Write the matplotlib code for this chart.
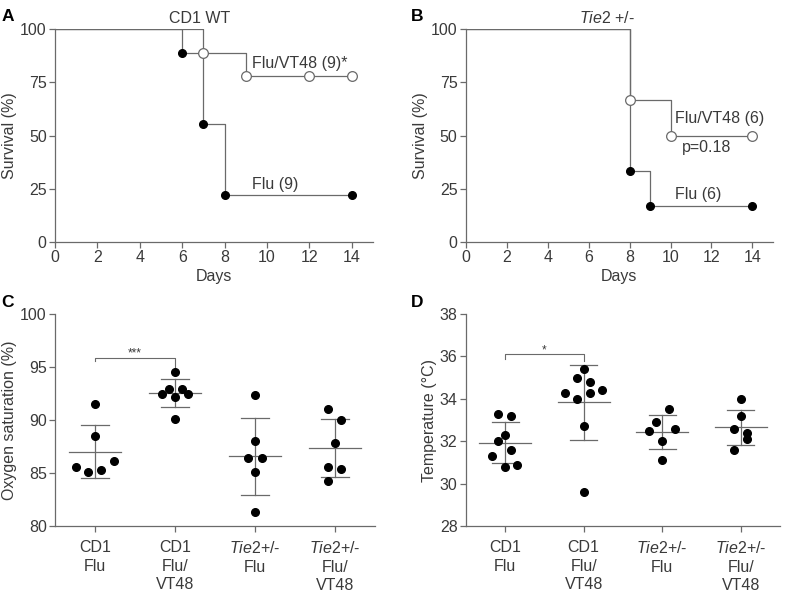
import matplotlib
matplotlib.use("Agg")
import matplotlib.pyplot as plt
import numpy as np

plt.rcParams['font.family'] = ['Liberation Sans', 'DejaVu Sans']
plt.rcParams['mathtext.fontset'] = 'custom'
plt.rcParams['mathtext.rm'] = 'Liberation Sans'
plt.rcParams['mathtext.it'] = 'Liberation Sans:italic'

GRAY = '#6a6a6a'
TXT = '#3a3a3a'
FS = 11.5

# survival data (A: CD1 WT, B: Tie2 +/-)
a_flu_t = [0, 6, 7, 8, 14]
a_flu_s = [100, 88.9, 55.6, 22.2, 22.2]
a_flu_mark_t = [6, 7, 8, 14]
a_vt_t = [0, 7, 9, 14]
a_vt_s = [100, 88.9, 77.8, 77.8]
a_vt_mark_t = [7, 9, 12, 14]

b_flu_t = [0, 8, 9, 14]
b_flu_s = [100, 33.3, 16.7, 16.7]
b_flu_mark_t = [8, 9, 14]
b_vt_t = [0, 8, 10, 14]
b_vt_s = [100, 66.7, 50, 50]
b_vt_mark_t = [8, 10, 14]

# scatter data
groups = ['CD1\nFlu', 'CD1\nFlu/\nVT48', '$\\it{Tie2}$+/-\nFlu', '$\\it{Tie2}$+/-\nFlu/\nVT48']
o2 = [
    [85.6, 85.1, 85.3, 86.1, 88.5, 91.5],
    [94.55, 92.5, 92.9, 92.2, 92.9, 92.5, 90.1],
    [92.4, 88.0, 86.4, 86.4, 85.1, 81.3],
    [91.0, 90.0, 87.8, 85.6, 85.4, 84.25],
]
o2_jit = [
    [-0.24, -0.083, 0.075, 0.24, 0, 0],
    [0, -0.16, -0.075, 0, 0.083, 0.16, 0],
    [0, 0, -0.083, 0.083, 0, 0],
    [-0.083, 0.075, 0, -0.083, 0.075, -0.083],
]
temp = [
    [33.3, 33.2, 32.3, 32.0, 31.6, 31.3, 30.8, 30.9],
    [35.4, 35.0, 34.8, 34.3, 34.3, 34.4, 34.0, 32.7, 29.6],
    [33.5, 32.9, 32.5, 32.6, 32.0, 31.1],
    [34.0, 33.2, 32.6, 32.4, 32.1, 31.6],
]
temp_jit = [
    [-0.087, 0.08, 0, -0.087, 0.08, -0.167, 0, 0.155],
    [0, -0.083, 0.075, -0.24, 0.075, 0.24, -0.083, 0, 0],
    [0.083, -0.083, -0.167, 0.167, 0, 0],
    [0, 0, -0.083, 0.083, 0.083, -0.083],
]

fig = plt.figure(figsize=(7.87, 5.96), dpi=100)


def style(ax):
    for s in ['top', 'right']:
        ax.spines[s].set_visible(False)
    for s in ['left', 'bottom']:
        ax.spines[s].set_color(GRAY)
        ax.spines[s].set_linewidth(0.9)
    ax.tick_params(colors=GRAY, labelcolor=TXT, labelsize=FS, length=4, width=0.9, pad=2)


def level(t_steps, s_steps, t):
    # survival value at time t for a post-step curve
    return s_steps[np.searchsorted(t_steps, t, side='right') - 1]


def survival(ax, ft, fs, fm, vt, vs, vm):
    ax.step(ft, fs, where='post', color=GRAY, lw=0.9)
    ax.step(vt, vs, where='post', color=GRAY, lw=0.9)
    ax.plot(fm, [level(ft, fs, t) for t in fm], 'o', color='black', ms=5.5, zorder=3)
    ax.plot(vm, [level(vt, vs, t) for t in vm],
            'o', mfc='white', mec=GRAY, mew=0.9, ms=7, zorder=3)
    ax.set_xlim(0, 15)
    ax.set_ylim(0, 100)
    ax.set_xticks(range(0, 15, 2))
    ax.set_yticks([0, 25, 50, 75, 100])
    ax.set_xlabel('Days', fontsize=FS, color=TXT, labelpad=3)
    ax.set_ylabel('Survival (%)', fontsize=FS, color=TXT, labelpad=2)
    style(ax)


axA = fig.add_axes([0.0699, 0.594, 0.404, 0.357])
survival(axA, a_flu_t, a_flu_s, a_flu_mark_t, a_vt_t, a_vt_s, a_vt_mark_t)
axA.text(6.8, 101.5, 'CD1 WT', ha='center', va='bottom', fontsize=FS, color=TXT)
axA.text(9.3, 84, 'Flu/VT48 (9)*', ha='left', va='center', fontsize=FS, color=TXT)
axA.text(9.3, 27, 'Flu (9)', ha='left', va='center', fontsize=FS, color=TXT)

axB = fig.add_axes([0.592, 0.594, 0.390, 0.357])
survival(axB, b_flu_t, b_flu_s, b_flu_mark_t, b_vt_t, b_vt_s, b_vt_mark_t)
axB.text(6.9, 101.5, '$\\it{Tie2}$ +/-', ha='center', va='bottom', fontsize=FS, color=TXT)
axB.text(10.2, 58, 'Flu/VT48 (6)', ha='left', va='center', fontsize=FS, color=TXT)
axB.text(10.55, 44.6, 'p=0.18', ha='left', va='center', fontsize=FS, color=TXT)
axB.text(10.2, 22.5, 'Flu (6)', ha='left', va='center', fontsize=FS, color=TXT)


def dotplot(ax, data, jit, ylim, yticks, ylabel):
    for i, (vals, j) in enumerate(zip(data, jit)):
        vals = np.array(vals)
        m = vals.mean()
        sd = vals.std(ddof=1)
        ax.plot(i + np.array(j), vals, 'o', color='black', ms=5.5, zorder=3)
        ax.plot([i - 0.33, i + 0.33], [m, m], color=GRAY, lw=0.9)
        ax.plot([i, i], [m - sd, m + sd], color=GRAY, lw=0.9)
        ax.plot([i - 0.17, i + 0.17], [m + sd, m + sd], color=GRAY, lw=0.9)
        ax.plot([i - 0.17, i + 0.17], [m - sd, m - sd], color=GRAY, lw=0.9)
    ax.set_xlim(-0.5, 3.5)
    ax.set_ylim(*ylim)
    ax.set_yticks(yticks)
    ax.set_xticks(range(4))
    ax.set_xticklabels(groups, linespacing=1.3, va='top')
    ax.set_ylabel(ylabel, fontsize=FS, color=TXT, labelpad=2)
    style(ax)
    ax.tick_params(axis='x', pad=6)


axC = fig.add_axes([0.0699, 0.1174, 0.4066, 0.3556])
dotplot(axC, o2, o2_jit, (80, 100), [80, 85, 90, 95, 100], 'Oxygen saturation (%)')
axC.plot([0, 0, 1, 1], [95.6, 95.9, 95.9, 95.0], color=GRAY, lw=0.8)
axC.text(0.5, 95.7, '***', ha='center', va='bottom', fontsize=8.5, color=TXT)

axD = fig.add_axes([0.592, 0.1174, 0.399, 0.3556])
dotplot(axD, temp, temp_jit, (28, 38), [28, 30, 32, 34, 36, 38], 'Temperature (°C)')
axD.plot([0, 0, 1, 1], [35.9, 36.1, 36.1, 35.8], color=GRAY, lw=0.8)
axD.text(0.5, 36.0, '*', ha='center', va='bottom', fontsize=8.5, color=TXT)

for lab, x, y in [('A', 0.002, 0.985), ('B', 0.522, 0.985), ('C', 0.002, 0.505), ('D', 0.522, 0.505)]:
    fig.text(x, y, lab, fontsize=12.5, fontweight='bold', va='top', ha='left', color='black')

fig.savefig('out.png', dpi=100)
